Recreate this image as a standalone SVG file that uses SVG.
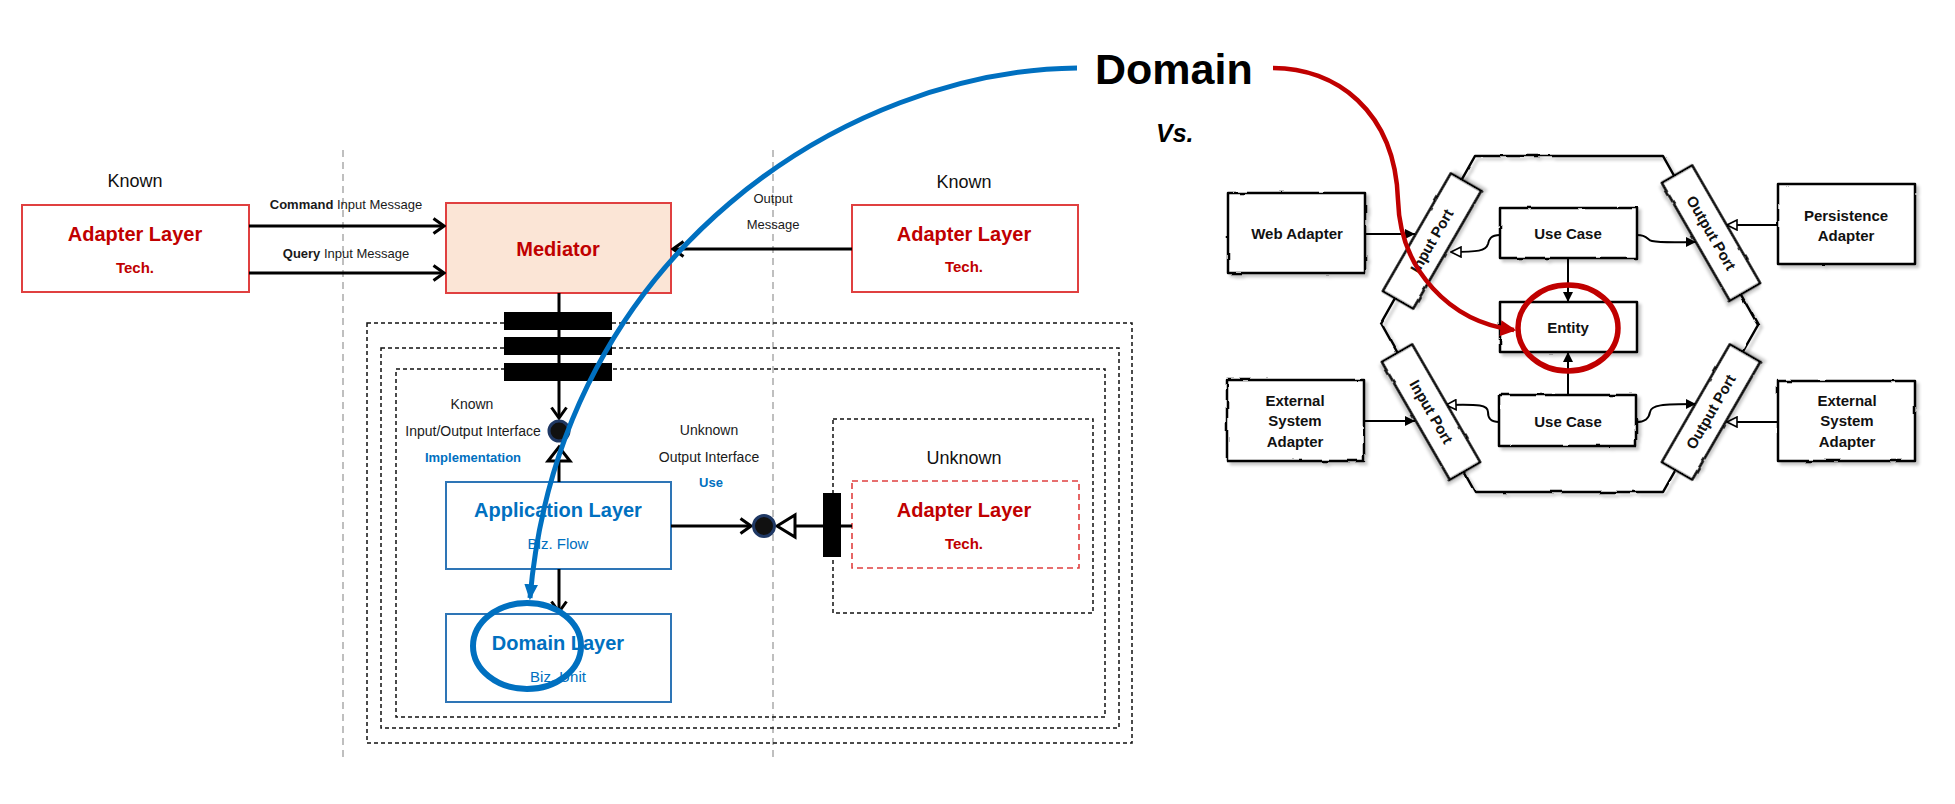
<svg xmlns="http://www.w3.org/2000/svg" width="1955" height="804" viewBox="0 0 1955 804">
<style>
  text { font-family: "Liberation Sans", Arial, sans-serif; }
  .t { fill: #1a1a1a; font-size: 14px; }
  .known { fill: #111; font-size: 18px; text-anchor: middle; }
  .redbox { fill: #fff; stroke: #e04040; stroke-width: 2; }
  .redtitle { fill: #c00000; font-size: 20px; font-weight: bold; text-anchor: middle; }
  .redsub { fill: #c00000; font-size: 15px; font-weight: bold; text-anchor: middle; }
  .bluebox { fill: #fff; stroke: #2e75b6; stroke-width: 2; }
  .bluetitle { fill: #0070c0; font-size: 20px; font-weight: bold; text-anchor: middle; }
  .bluesub { fill: #0070c0; font-size: 15px; text-anchor: middle; }
  .bluelbl { fill: #0070c0; font-size: 13px; font-weight: bold; text-anchor: middle; }
  .lbl { fill: #1a1a1a; font-size: 14px; text-anchor: middle; }
  .msg { fill: #1a1a1a; font-size: 13px; text-anchor: middle; }
  .dash { fill: none; stroke: #111; stroke-width: 1.5; stroke-dasharray: 4 3; }
  .guide { stroke: #aaaaaa; stroke-width: 1.5; stroke-dasharray: 7 5; }
  .conn { fill: none; stroke: #000; stroke-width: 3; }
  .hollow { fill: #fff; stroke: #000; stroke-width: 3; stroke-linejoin: miter; }
  .iface { fill: #111; stroke: #1f3864; stroke-width: 3; }
  .bar { fill: #000; }
  .sk { fill: #fff; stroke: #000; stroke-width: 2.5; stroke-linejoin: round; filter: url(#rough); }
  .hex { fill: none; stroke: #000; stroke-width: 2.5; stroke-linejoin: round; filter: url(#rough); }
  .hx { fill: #111; font-size: 15px; font-weight: bold; text-anchor: middle; }
  .hc { fill: none; stroke: #000; stroke-width: 2; }
</style>
<defs>
  <filter id="rough" x="-10%" y="-10%" width="120%" height="130%">
    <feTurbulence type="fractalNoise" baseFrequency="0.06" numOctaves="2" seed="3" result="n"/>
    <feDisplacementMap in="SourceGraphic" in2="n" scale="2.5" xChannelSelector="R" yChannelSelector="G" result="d"/>
    <feDropShadow dx="3" dy="3" stdDeviation="1.5" flood-color="#000" flood-opacity="0.22"/>
  </filter>
  <marker id="chev" viewBox="0 0 14 18" refX="12" refY="9" markerWidth="14" markerHeight="18" markerUnits="userSpaceOnUse" orient="auto">
    <path d="M1.5,1.5 L12,9 L1.5,16.5" fill="none" stroke="#000" stroke-width="3"/>
  </marker>
  <marker id="blueHead" viewBox="0 0 14 12" refX="12" refY="6" markerWidth="16" markerHeight="14" markerUnits="userSpaceOnUse" orient="auto">
    <path d="M0,0 L14,6 L0,12 z" fill="#0070c0"/>
  </marker>
  <marker id="redHead" viewBox="0 0 14 14" refX="12" refY="7" markerWidth="16" markerHeight="16" markerUnits="userSpaceOnUse" orient="auto">
    <path d="M0,0 L14,7 L0,14 z" fill="#c00000"/>
  </marker>
  <marker id="fill" viewBox="0 0 10 10" refX="10" refY="5" markerWidth="11" markerHeight="10" markerUnits="userSpaceOnUse" orient="auto">
    <path d="M0,0 L10,5 L0,10 z" fill="#000"/>
  </marker>
  <marker id="open" viewBox="0 0 12 12" refX="11" refY="6" markerWidth="12" markerHeight="12" markerUnits="userSpaceOnUse" orient="auto">
    <path d="M1,1 L11,6 L1,11 z" fill="#fff" stroke="#000" stroke-width="1.6"/>
  </marker>
</defs>

<rect width="1955" height="804" fill="#fff"/>

<!-- guides -->
<g id="guides">
  <line class="guide" x1="343" y1="150" x2="343" y2="760"/>
  <line class="guide" x1="773" y1="150" x2="773" y2="760"/>
</g>

<!-- nested dashed boundaries -->
<g id="boundaries">
  <rect class="dash" x="367" y="323" width="765" height="420"/>
  <rect class="dash" x="381" y="348" width="738" height="380"/>
  <rect class="dash" x="396" y="369" width="709" height="348"/>
</g>

<g id="known-left">
  <text class="known" x="135" y="187">Known</text>
  <rect class="redbox" x="22" y="205" width="227" height="87"/>
  <text class="redtitle" x="135" y="241">Adapter Layer</text>
  <text class="redsub" x="135" y="273">Tech.</text>
</g>

<g id="mediator">
  <rect x="446" y="203" width="225" height="90" fill="#fbe5d6" stroke="#e04040" stroke-width="2"/>
  <text class="redtitle" x="558" y="256" font-size="21">Mediator</text>
</g>

<g id="known-right">
  <text class="known" x="964" y="188">Known</text>
  <rect class="redbox" x="852" y="205" width="226" height="87"/>
  <text class="redtitle" x="964" y="241">Adapter Layer</text>
  <text class="redsub" x="964" y="272">Tech.</text>
</g>

<g id="application-layer">
  <rect class="bluebox" x="446" y="482" width="225" height="87"/>
  <text class="bluetitle" x="558" y="517">Application Layer</text>
  <text class="bluesub" x="558" y="549">Biz. Flow</text>
</g>

<g id="domain-layer">
  <rect class="bluebox" x="446" y="614" width="225" height="88"/>
  <text class="bluetitle" x="558" y="650">Domain Layer</text>
  <text class="bluesub" x="558" y="682">Biz. Unit</text>
</g>

<g id="unknown-adapter">
  <rect class="dash" x="833" y="419" width="260" height="194"/>
  <text class="known" x="964" y="464">Unknown</text>
  <rect x="852" y="481" width="227" height="87" fill="#fff" stroke="#e04040" stroke-width="1.6" stroke-dasharray="6 4"/>
  <text class="redtitle" x="964" y="517">Adapter Layer</text>
  <text class="redsub" x="964" y="549">Tech.</text>
</g>

<g id="labels">
  <text class="msg" x="346" y="209"><tspan font-weight="bold">Command</tspan> Input Message</text>
  <text class="msg" x="346" y="258"><tspan font-weight="bold">Query</tspan> Input Message</text>
  <text class="msg" x="773" y="203">Output</text>
  <text class="msg" x="773" y="229">Message</text>
  <text class="lbl" x="472" y="409">Known</text>
  <text class="lbl" x="473" y="436">Input/Output Interface</text>
  <text class="bluelbl" x="473" y="462">Implementation</text>
  <text class="lbl" x="709" y="435">Unknown</text>
  <text class="lbl" x="709" y="462">Output Interface</text>
  <text class="bluelbl" x="711" y="487">Use</text>
</g>

<g id="connectors">
  <line class="conn" x1="249" y1="226" x2="444" y2="226" marker-end="url(#chev)"/>
  <line class="conn" x1="249" y1="273" x2="444" y2="273" marker-end="url(#chev)"/>
  <line class="conn" x1="852" y1="249" x2="673" y2="249" marker-end="url(#chev)"/>
  <line class="conn" x1="559" y1="293" x2="559" y2="418" marker-end="url(#chev)"/>
  <line class="conn" x1="559" y1="461" x2="559" y2="482"/>
  <line class="conn" x1="559" y1="569" x2="559" y2="612" marker-end="url(#chev)"/>
  <line class="conn" x1="671" y1="526" x2="751" y2="526" marker-end="url(#chev)"/>
  <line class="conn" x1="795" y1="526" x2="852" y2="526"/>
  <polygon class="hollow" points="559,447 548,461 570,461"/>
  <polygon class="hollow" points="777,526 795,515 795,537"/>
</g>

<g id="interfaces">
  <rect class="bar" x="504" y="312" width="108" height="18"/>
  <rect class="bar" x="504" y="337" width="108" height="18"/>
  <rect class="bar" x="504" y="363" width="108" height="18"/>
  <rect class="bar" x="823" y="493" width="18" height="64"/>
  <circle class="iface" cx="559" cy="431" r="10"/>
  <circle class="iface" cx="764" cy="526" r="10.5"/>
</g>

<!-- Hexagonal architecture -->
<g id="hexagon">
  <polygon class="hex" points="1475,156 1663,156 1758,325 1663,492 1475,492 1381,323"/>
</g>

<g id="hex-connectors">
  <path class="hc" d="M1365,234 L1415,234" marker-end="url(#fill)"/>
  <path class="hc" d="M1500,235 C1490,235 1489,240 1488,244 C1486,251 1478,252 1451,252" marker-end="url(#open)"/>
  <path class="hc" d="M1637,235 C1648,235 1647,240 1652,241 C1662,243 1680,242 1696,242" marker-end="url(#fill)"/>
  <path class="hc" d="M1778,225 L1727,225" marker-end="url(#open)"/>
  <path class="hc" d="M1568,258 L1568,302" marker-end="url(#fill)"/>
  <path class="hc" d="M1568,395 L1568,352" marker-end="url(#fill)"/>
  <path class="hc" d="M1364,421 L1415,421" marker-end="url(#fill)"/>
  <path class="hc" d="M1499,422 C1490,422 1488,418 1488,412 C1488,405 1480,404 1446,405" marker-end="url(#open)"/>
  <path class="hc" d="M1636,422 C1646,422 1649,418 1650,412 C1651,405 1662,404 1696,404" marker-end="url(#fill)"/>
  <path class="hc" d="M1778,422 L1727,422" marker-end="url(#open)"/>
</g>

<g id="input-port-top" transform="translate(1432,241) rotate(-60)">
  <rect class="sk" x="-68" y="-17.5" width="136" height="35"/>
  <text class="hx" x="0" y="5">Input Port</text>
</g>
<g id="input-port-bottom" transform="translate(1431,412) rotate(60)">
  <rect class="sk" x="-68" y="-17.5" width="136" height="35"/>
  <text class="hx" x="0" y="5">Input Port</text>
</g>
<g id="output-port-top" transform="translate(1711,233) rotate(60)">
  <rect class="sk" x="-68" y="-17.5" width="136" height="35"/>
  <text class="hx" x="0" y="5">Output Port</text>
</g>
<g id="output-port-bottom" transform="translate(1711,412) rotate(-60)">
  <rect class="sk" x="-68" y="-17.5" width="136" height="35"/>
  <text class="hx" x="0" y="5">Output Port</text>
</g>

<g id="web-adapter">
  <rect class="sk" x="1228" y="193" width="137" height="80"/>
  <text class="hx" x="1297" y="239">Web Adapter</text>
</g>
<g id="use-case-top">
  <rect class="sk" x="1500" y="208" width="137" height="50"/>
  <text class="hx" x="1568" y="239">Use Case</text>
</g>
<g id="entity">
  <rect class="sk" x="1500" y="302" width="137" height="50"/>
  <text class="hx" x="1568" y="333">Entity</text>
</g>
<g id="use-case-bottom">
  <rect class="sk" x="1499" y="395" width="137" height="51"/>
  <text class="hx" x="1568" y="427">Use Case</text>
</g>
<g id="persistence-adapter">
  <rect class="sk" x="1778" y="184" width="137" height="80"/>
  <text class="hx" x="1846" y="221">Persistence</text>
  <text class="hx" x="1846" y="241">Adapter</text>
</g>
<g id="external-adapter-left">
  <rect class="sk" x="1227" y="380" width="137" height="81"/>
  <text class="hx" x="1295" y="406">External</text>
  <text class="hx" x="1295" y="426">System</text>
  <text class="hx" x="1295" y="447">Adapter</text>
</g>
<g id="external-adapter-right">
  <rect class="sk" x="1778" y="381" width="137" height="80"/>
  <text class="hx" x="1847" y="406">External</text>
  <text class="hx" x="1847" y="426">System</text>
  <text class="hx" x="1847" y="447">Adapter</text>
</g>

<!-- Domain highlight -->
<g id="domain-title">
  <text x="1095" y="84" font-size="43" font-weight="bold" fill="#000">Domain</text>
  <text x="1156" y="142" font-size="25" font-weight="bold" font-style="italic" fill="#000">Vs.</text>
</g>

<g id="highlights">
  <path d="M1077,68 C850,70 560,250 530,598" fill="none" stroke="#0070c0" stroke-width="5" marker-end="url(#blueHead)"/>
  <ellipse cx="527" cy="646" rx="54" ry="43" fill="none" stroke="#0070c0" stroke-width="6"/>
  <path d="M1273,68 C1335,68 1395,110 1398,200 C1400,270 1450,322 1514,330" fill="none" stroke="#c00000" stroke-width="4.5" marker-end="url(#redHead)"/>
  <ellipse cx="1568" cy="328" rx="50" ry="43" fill="none" stroke="#c00000" stroke-width="5.5"/>
</g>
</svg>
